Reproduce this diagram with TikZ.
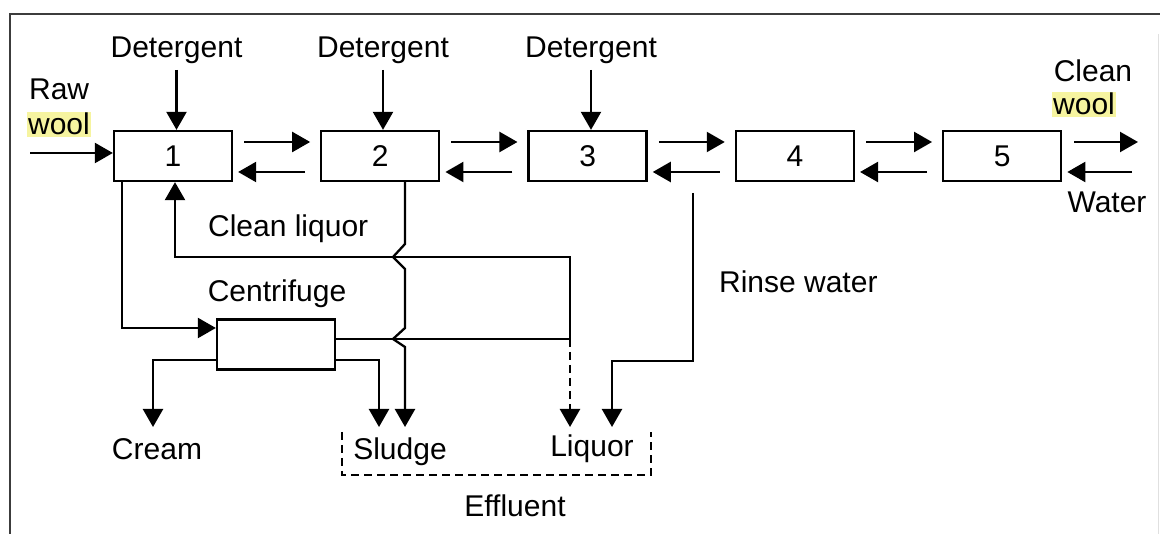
\documentclass[tikz,border=0pt]{standalone}
\usepackage{fontspec}
\setmainfont{Liberation Sans}
\usetikzlibrary{arrows.meta,positioning}
\definecolor{framegray}{RGB}{60,60,60}
\definecolor{hlyellow}{RGB}{246,244,160}

\begin{document}
\begin{tikzpicture}[x=1pt,y=1pt,line width=2.3pt,
  font=\fontsize{30pt}{36pt}\selectfont,
  >={Triangle[length=18pt,width=20pt]},
  unit/.style={draw,minimum width=118pt,minimum height=50pt,inner sep=0pt},
  lbl/.style={inner sep=0pt,anchor=base},
  hl/.style={fill=hlyellow,inner sep=1.5pt,anchor=base},
  effl/.style={dash pattern=on 8pt off 5pt}]
  \useasboundingbox (0,0) rectangle (1160,534);
  \draw[framegray] (10,0) -- (10,520) -- (1160,520);
  \draw[black!12,line width=1pt] (1158,0) -- (1158,500);
  % scouring bowls
  \node[unit] (u1) at (173,378) {1};
  \foreach \i [remember=\i as \j (initially 1)] in {2,...,5}
    \node[unit,right=87pt of u\j] (u\i) {\i};
  \foreach \a/\b in {u1/u2,u2/u3,u3/u4,u4/u5} {
    \draw[->] ([shift={(11pt,14pt)}]\a.east) -- ([shift={(-10pt,14pt)}]\b.west);
    \draw[->] ([shift={(-15pt,-16pt)}]\b.west) -- ([shift={(5pt,-16pt)}]\a.east);
  }
  % detergent feeds
  \foreach \i/\x in {1/176.5,2/383,3/591} {
    \node[lbl] (det\i) at (\x,476) {Detergent};
    \draw[->] ([yshift=-12pt]det\i.base) -- (det\i.base |- u\i.north);
  }
  % wool in and out
  \node[lbl,anchor=base west] (raw) at (28,434) {Raw};
  \node[hl,anchor=base west] (rawwool) at (25.5,399) {wool};
  \coordinate (rawin) at (30,381);
  \draw[->] (rawin) -- (rawin -| u1.west);
  \node[lbl] (clean) at (1093,452) {Clean};
  \node[hl] (cleanwool) at (1084,419) {wool};
  \coordinate (woolout) at (1138,392);
  \draw[->] ([shift={(12pt,14pt)}]u5.east) -- (woolout);
  \coordinate (waterin) at (1132,362);
  \draw[->] (waterin) -- ([shift={(5pt,-16pt)}]u5.east);
  \node[lbl] (water) at (1107,321) {Water};
  % centrifuge
  \node[unit] (cf) at (276,189.5) {};
  \node[lbl] (cflbl) at (277,232) {Centrifuge};
  \coordinate (b1) at (122,206);
  \draw[->] (u1.south -| b1) -- (b1) -- (b1 -| cf.west);
  % clean liquor recycle
  \coordinate (lqa) at (570,277);
  \coordinate (lqb) at (570,195);
  \coordinate (lqup) at (175,277);
  \coordinate (liqtip) at (570,107);
  \draw[->] (cf.east |- lqb) -- (lqb) -- (lqa) -- (lqup) -- (lqup |- u1.south);
  \draw[->,effl] (lqb) -- (liqtip);
  \node[lbl,anchor=base west] (cleanliq) at (207,297) {Clean liquor};
  % sludge from bowl 2
  \coordinate (s2) at (405,107);
  \draw[->] (u2.south -| s2) -- ([yshift=13pt]s2 |- lqa) -- ++(-12,-13) -- ++(12,-12)
    -- ([yshift=11pt]s2 |- lqb) -- ++(-12,-11) -- ++(12,-8) -- (s2);
  % centrifuge outputs
  \coordinate (creamtip) at (153,107);
  \coordinate (sludgetip) at (379,107);
  \draw[->] ([yshift=-15.5pt]cf.west) -| (creamtip);
  \draw[->] ([yshift=-15.5pt]cf.east) -| (sludgetip);
  % rinse water
  \coordinate (rinsetop) at (693,341);
  \coordinate (rinsebend) at (693,173);
  \coordinate (rinsetip) at (612,107);
  \draw[->] (rinsetop) -- (rinsebend) -| (rinsetip);
  \node[lbl,anchor=base west] (rinse) at (718,241) {Rinse water};
  % effluent
  \node[lbl] (cream) at (157,74) {Cream};
  \node[lbl] (sludge) at (400,74) {Sludge};
  \node[lbl] (liquor) at (592,77) {Liquor};
  \coordinate (efl) at (342,102);
  \coordinate (efr) at (651,102);
  \draw[effl] (efl) -- ++(0,-43) -| (efr);
  \node[lbl] (effluent) at (515,17) {Effluent};
\end{tikzpicture}
\end{document}
